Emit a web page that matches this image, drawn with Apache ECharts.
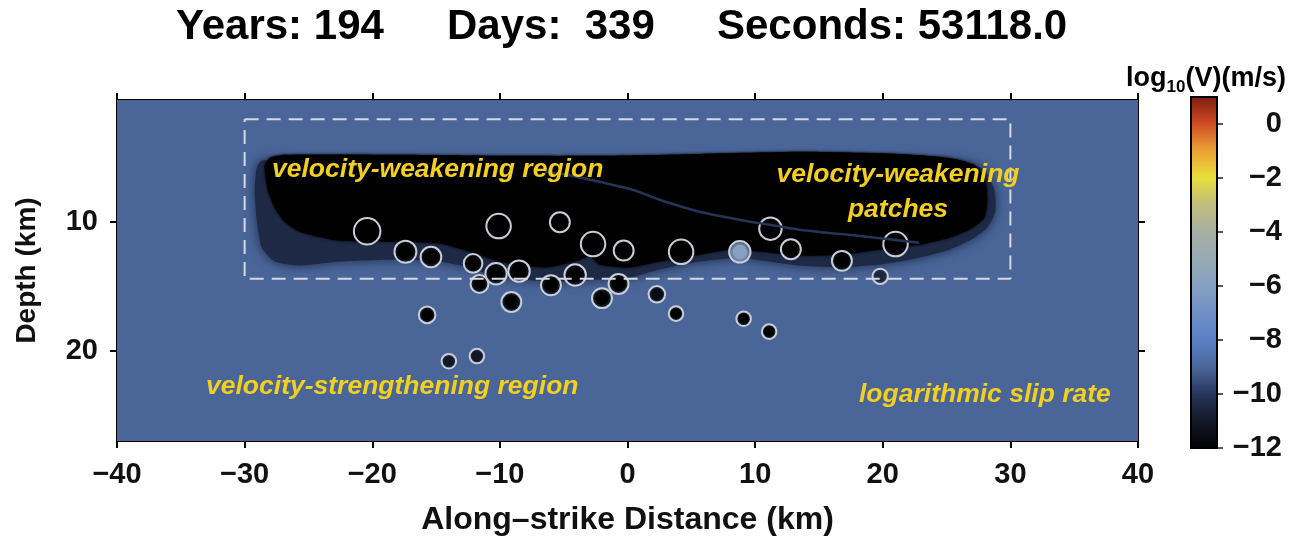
<!DOCTYPE html>
<html><head><meta charset="utf-8">
<script src="https://cdn.jsdelivr.net/npm/echarts@6/dist/echarts.min.js"></script>
<style>html,body{margin:0;padding:0;background:#fff}#c{width:1300px;height:539px}</style>
</head><body><div id="c"></div>
<script>
// ---------------- data ----------------
const xTicks = [-40, -30, -20, -10, 0, 10, 20, 30, 40];
const depthTicks = [10, 20];
const colorbarTicks = [-12, -10, -8, -6, -4, -2, 0];
const colormapValues = [-12, -11, -10, -9, -8, -7, -6, -5, -4, -3, -2, -1, 0, 1];
const colormapColors = ['#000000', '#121826', '#26345a', '#4a6699', '#5b80c8', '#6f8fc6', '#87a0c2',
                        '#98aab4', '#a6afa2', '#c0bd7c', '#e8df3c', '#eca035', '#cf4a22', '#7a1c10'];
const domainX = [-40, 40];
const domainDepth = [0.5, 27];

const backgroundLogV = -9;
const haloLogV = -10.4;
const lockedLogV = -12;
// dark, partially locked halo around the velocity-weakening region (x km, depth km)
const haloOutline = [[-29.05,5.77],[-28.66,5.2],[-25.69,5.3],[-2.19,5.3],[21.3,5.2],[26.0,5.3],[27.96,5.9],
  [28.74,7.48],[28.82,9.18],[28.19,10.42],[26.94,11.35],[25.22,12.13],[22.87,12.75],[19.73,13.29],
  [16.6,13.52],[13.47,13.37],[11.12,13.06],[8.77,12.75],[5.64,13.06],[2.51,13.68],[0.16,14.3],
  [-2.19,14.45],[-5.32,14.61],[-8.46,14.45],[-10.81,14.07],[-12.37,13.52],[-14.72,13.06],[-17.85,12.9],
  [-22.55,13.06],[-25.69,13.37],[-27.64,13.06],[-28.66,11.97],[-29.05,9.8],[-29.21,7.48]];
// locked (black) velocity-weakening region
const lockedOutline = [[-28.43,5.62],[-28.03,5.0],[-26.86,4.76],[-17.85,4.76],[-10.02,4.84],[-2.19,4.84],
  [5.64,4.69],[13.47,4.53],[21.3,4.69],[25.22,5.0],[27.17,5.54],[28.03,6.7],[28.19,8.25],[27.96,9.65],
  [26.78,10.58],[25.22,11.2],[22.87,11.74],[19.73,12.13],[16.6,12.52],[13.47,12.59],[10.34,12.28],
  [7.99,12.13],[5.64,12.52],[2.51,13.06],[0.16,13.52],[-2.19,13.29],[-2.98,12.67],[-4.15,13.06],
  [-6.5,13.52],[-10.02,13.06],[-12.37,12.28],[-14.72,11.66],[-17.85,11.51],[-22.55,11.43],
  [-25.69,10.73],[-26.86,9.96],[-27.64,8.87],[-28.19,7.48]];
// thin slipping streak inside the locked region
const frontLine = [[-6.5,6.08],[-4.78,6.31],[-2.19,6.86],[0.39,7.48],[2.51,8.25],[5.64,9.18],
  [8.77,9.8],[11.12,10.19],[13.47,10.58],[18.72,11.12],[22.87,11.59]];
// dashed box
const boxX = [-30, 30];
const boxDepth = [2, 14.4];
// velocity-weakening patches
const patchX = [-20.4,-17.4,-15.4,-10.1,-5.3,-2.7,-0.3,4.2,8.8,11.2,12.8,16.8,21.0,19.8,-12.1,-10.3,-8.5,
  -11.6,-6.0,-4.1,-0.7,-2.0,-9.1,2.3,3.8,9.1,11.1,-15.7,-14.0,-11.8];
const patchDepth = [10.7,12.3,12.7,10.3,10.0,11.7,12.2,12.3,12.3,10.5,12.1,13.0,11.7,14.2,13.2,14.0,13.8,
  14.8,14.9,14.1,14.8,15.9,16.2,15.6,17.1,17.5,18.5,17.2,20.8,20.4];
const patchRadius = [1.04,0.86,0.81,0.96,0.78,0.96,0.78,0.96,0.84,0.88,0.78,0.78,0.96,0.6,0.73,0.84,0.84,
  0.7,0.78,0.84,0.78,0.78,0.78,0.65,0.57,0.57,0.57,0.65,0.57,0.57];
const patchLogV = [-12,-12,-12,-12,-12,-12,-12,-12,-6,-12,-12,-12,-12,-10.5,-12,-12,-12,
  -12,-12,-12,-12,-12,-12,-11.5,-12,-12,-12,-12,-11,-11];

// ---------------- chart ----------------
const FONT = "'Liberation Sans', Arial, Helvetica, sans-serif";
const backgroundOutline = [[domainX[0], domainDepth[0]], [domainX[1], domainDepth[0]],
                           [domainX[1], domainDepth[1]], [domainX[0], domainDepth[1]]];
const regionOutlines = [backgroundOutline, haloOutline, lockedOutline];
const regionLogV = [backgroundLogV, haloLogV, lockedLogV];
const cmin = colormapValues[0], cmax = colormapValues[colormapValues.length - 1];
const minusFmt = v => String(v).replace('-', '\u2212');
const black = '#000';

const chart = echarts.init(document.getElementById('c'), null, {renderer: 'canvas'});
const option = {
  animation: false,
  backgroundColor: '#fff',
  grid: [
    {left: 117, top: 100, width: 1021, height: 341, containLabel: false, outerBoundsMode: 'none'},
    {left: 1191, top: 97, width: 26, height: 351, containLabel: false, outerBoundsMode: 'none'}
  ],
  xAxis: [
    {gridIndex: 0, type: 'value', min: domainX[0], max: domainX[1], interval: 10, position: 'bottom',
     axisLine: {onZero: false, lineStyle: {color: black, width: 2}},
     axisTick: {length: 7, lineStyle: {color: black, width: 2}},
     axisLabel: {fontSize: 29, fontWeight: 'bold', fontFamily: FONT, color: '#111', margin: 19, formatter: minusFmt},
     splitLine: {show: false},
     name: 'Along\u2013strike Distance (km)', nameLocation: 'middle', nameGap: 63,
     nameTextStyle: {fontSize: 32, fontWeight: 'bold', fontFamily: FONT, color: '#111'}},
    {gridIndex: 0, type: 'value', min: domainX[0], max: domainX[1], interval: 10, position: 'top',
     axisLine: {onZero: false, lineStyle: {color: black, width: 2}},
     axisTick: {length: 7, lineStyle: {color: black, width: 2}},
     axisLabel: {show: false}, splitLine: {show: false}},
    {gridIndex: 1, type: 'value', min: 0, max: 1, show: false}
  ],
  yAxis: [
    {gridIndex: 0, type: 'value', min: domainDepth[0], max: domainDepth[1], inverse: true, position: 'left',
     axisLine: {onZero: false, lineStyle: {color: black, width: 2}},
     axisTick: {length: 7, customValues: depthTicks, lineStyle: {color: black, width: 2}},
     axisLabel: {customValues: depthTicks, fontSize: 29, fontWeight: 'bold', fontFamily: FONT, color: '#111', margin: 19},
     splitLine: {show: false},
     name: 'Depth (km)', nameLocation: 'middle', nameGap: 76, nameRotate: 90,
     nameTextStyle: {fontSize: 28, fontWeight: 'bold', fontFamily: FONT, color: '#111'}},
    {gridIndex: 0, type: 'value', min: domainDepth[0], max: domainDepth[1], inverse: true, position: 'right',
     axisLine: {onZero: false, lineStyle: {color: black, width: 2}},
     axisTick: {length: 7, customValues: depthTicks, lineStyle: {color: black, width: 2}},
     axisLabel: {show: false}, splitLine: {show: false}},
    {gridIndex: 1, type: 'value', min: cmin, max: cmax, position: 'right',
     axisLine: {show: false, onZero: false},
     axisTick: {length: 6, customValues: colorbarTicks, lineStyle: {color: '#222', width: 1.5}},
     axisLabel: {customValues: colorbarTicks, fontSize: 29, fontWeight: 'bold', fontFamily: FONT, color: '#111',
                 margin: 65, align: 'right', formatter: minusFmt},
     splitLine: {show: false}}
  ],
  visualMap: [
    {type: 'continuous', show: false, min: cmin, max: cmax, dimension: 1, seriesIndex: 0,
     inRange: {color: colormapColors}},
    {type: 'continuous', show: false, min: cmin, max: cmax, dimension: 3, seriesIndex: 3,
     inRange: {color: colormapColors}}
  ],
  series: [
    {type: 'custom', xAxisIndex: 0, yAxisIndex: 0, silent: true, clip: true,
     data: regionLogV.map((v, i) => [i, v]),
     renderItem: function (params, api) {
       const i = params.dataIndex;
       const pts = regionOutlines[i].map(p => api.coord(p));
       const color = api.visual('color');
       return {type: 'polygon', shape: {points: pts, smooth: i === 0 ? 0 : 0.2},
               style: {fill: color, shadowBlur: i === 1 ? 12 : (i === 2 ? 3 : 0), shadowColor: color}};
     }},
    {type: 'line', xAxisIndex: 0, yAxisIndex: 0, silent: true, data: frontLine, showSymbol: false,
     smooth: 0.3, lineStyle: {color: '#27345a', width: 2.5}},
    {type: 'line', xAxisIndex: 0, yAxisIndex: 0, silent: true, showSymbol: false,
     data: [[boxX[0], boxDepth[0]], [boxX[1], boxDepth[0]], [boxX[1], boxDepth[1]], [boxX[0], boxDepth[1]], [boxX[0], boxDepth[0]]],
     lineStyle: {color: '#d5d9e0', width: 2, type: [14, 8]}},
    {type: 'custom', xAxisIndex: 0, yAxisIndex: 0, silent: true,
     data: patchX.map((x, i) => [x, patchDepth[i], patchRadius[i], patchLogV[i]]),
     renderItem: function (params, api) {
       const c = api.coord([api.value(0), api.value(1)]);
       const r = api.size([api.value(2), 0])[0];
       const color = api.visual('color');
       return {type: 'circle', shape: {cx: c[0], cy: c[1], r: r},
               style: {fill: new echarts.graphic.RadialGradient(0.5, 0.5, 0.5, [
                         {offset: 0, color: color}, {offset: 0.55, color: color},
                         {offset: 1, color: echarts.color.modifyAlpha(color, 0.25)}]),
                       stroke: '#c9cdd6', lineWidth: 2}};
     }},
    {type: 'custom', xAxisIndex: 2, yAxisIndex: 2, silent: true, data: [[0, cmax]],
     renderItem: function (params, api) {
       const p0 = api.coord([0, cmax]);
       const p1 = api.coord([1, cmin]);
       const stops = colormapValues.map((v, i) => ({offset: (v - cmin) / (cmax - cmin), color: colormapColors[i]}));
       return {type: 'rect', shape: {x: p0[0], y: p0[1], width: p1[0] - p0[0], height: p1[1] - p0[1]},
               style: {fill: new echarts.graphic.LinearGradient(0, 1, 0, 0, stops), stroke: black, lineWidth: 2}};
     }}
  ],
  graphic: [
    {type: 'text', x: 176, y: 27, z: 100, style: {text: 'Years: 194', fontSize: 42, fontWeight: 'bold', fontFamily: FONT, fill: '#000', align: 'left', verticalAlign: 'middle'}},
    {type: 'text', x: 447, y: 27, z: 100, style: {text: 'Days:  339', fontSize: 42, fontWeight: 'bold', fontFamily: FONT, fill: '#000', align: 'left', verticalAlign: 'middle'}},
    {type: 'text', x: 717, y: 27, z: 100, style: {text: 'Seconds: 53118.0', fontSize: 42, fontWeight: 'bold', fontFamily: FONT, fill: '#000', align: 'left', verticalAlign: 'middle'}},
    {type: 'text', x: 1286, y: 79, z: 100, style: {
       text: '{b|log}{s|10}{b|(V)(m/s)}', align: 'right', verticalAlign: 'middle',
       rich: {b: {fontSize: 27, fontWeight: 'bold', fontFamily: FONT, fill: '#000', lineHeight: 34, verticalAlign: 'middle'},
              s: {fontSize: 17, fontWeight: 'bold', fontFamily: FONT, fill: '#000', verticalAlign: 'bottom'}}}},
    {type: 'text', x: 272, y: 170, z: 100, style: {text: 'velocity-weakening region', fontSize: 26.5, fontWeight: 'bold', fontStyle: 'italic', fontFamily: FONT, fill: '#f3cf1f', align: 'left', verticalAlign: 'middle'}},
    {type: 'text', x: 898, y: 175, z: 100, style: {text: 'velocity-weakening', fontSize: 26.5, fontWeight: 'bold', fontStyle: 'italic', fontFamily: FONT, fill: '#f3cf1f', align: 'center', verticalAlign: 'middle'}},
    {type: 'text', x: 898, y: 210, z: 100, style: {text: 'patches', fontSize: 26.5, fontWeight: 'bold', fontStyle: 'italic', fontFamily: FONT, fill: '#f3cf1f', align: 'center', verticalAlign: 'middle'}},
    {type: 'text', x: 206, y: 387, z: 100, style: {text: 'velocity-strengthening region', fontSize: 26.5, fontWeight: 'bold', fontStyle: 'italic', fontFamily: FONT, fill: '#f3cf1f', align: 'left', verticalAlign: 'middle'}},
    {type: 'text', x: 859, y: 395, z: 100, style: {text: 'logarithmic slip rate', fontSize: 26.5, fontWeight: 'bold', fontStyle: 'italic', fontFamily: FONT, fill: '#f3cf1f', align: 'left', verticalAlign: 'middle'}}
  ]
};
chart.setOption(option);
</script>
</body></html>
